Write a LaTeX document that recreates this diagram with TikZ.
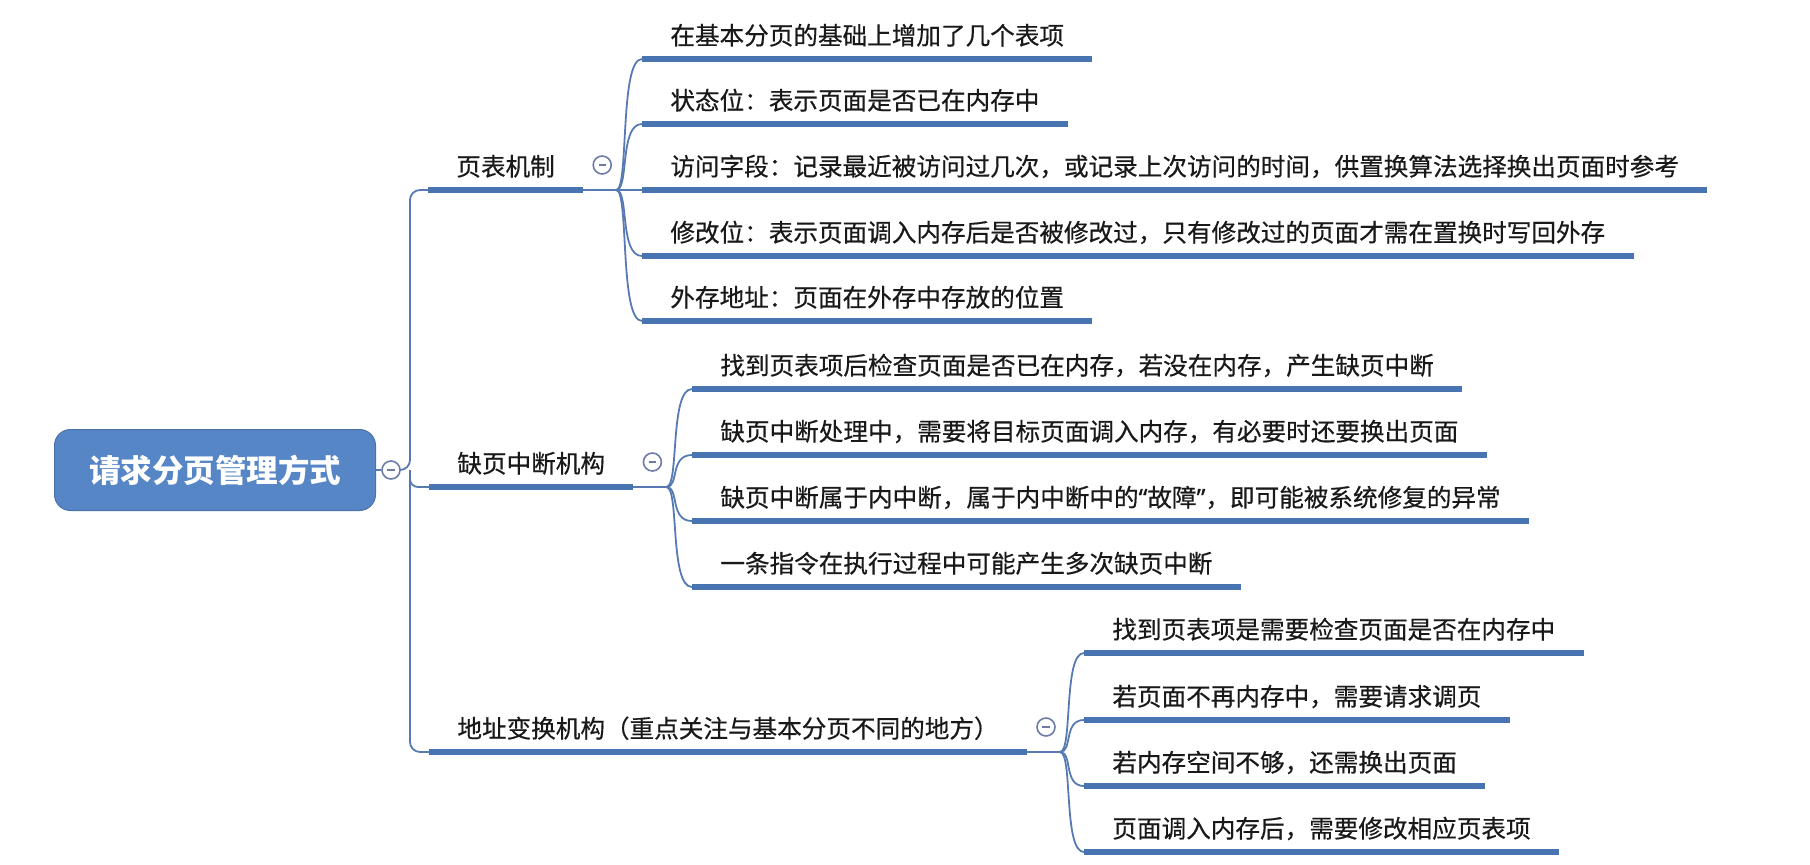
\documentclass[tikz,border=0pt]{standalone}
\usepackage{fontspec}
\setmainfont{Noto Sans CJK SC}
\newfontfamily\itemfont{Noto Sans CJK SC}[FakeBold=0.5]
\newfontfamily\quotefont{Noto Sans}[FakeBold=0.5]
\usetikzlibrary{calc}
\definecolor{ublue}{RGB}{72,116,178}
\definecolor{lblue}{RGB}{88,122,178}
\definecolor{rootblue}{RGB}{86,134,198}
\definecolor{cgray}{RGB}{110,124,165}
\begin{document}
\begin{tikzpicture}[x=0.5pt,y=-0.5pt,
  item/.style={anchor=south west, inner xsep=14pt, inner ysep=0pt, text height=10pt, text depth=7pt, font=\itemfont\fontsize{12.3}{14}\selectfont, text=black!90},
  ubar/.style={draw=ublue, line width=3pt},
  conn/.style={draw=lblue, line width=0.9pt},
  tog/.style={circle, draw=cgray, line width=0.8pt, fill=white, minimum size=9pt, inner sep=0pt,
    path picture={\draw[cgray, line width=0.7pt] ([xshift=-1.8pt]path picture bounding box.center) -- ([xshift=1.8pt]path picture bounding box.center);}},
  rootbox/.style={fill=rootblue, draw=rootblue!85!black, line width=0.5pt, rounded corners=8pt, minimum width=160.5pt, minimum height=40.5pt, text=white, font=\fontsize{15.75}{18}\selectfont\bfseries}]
\useasboundingbox (0,0) rectangle (1810,864);

% root
\node[rootbox] (root) at (215,470) {请求分页管理方式};
\node[tog] (rt) at (391,470) {};
\draw[conn] (root.east) -- (rt.west);

% level 1
\node[item] (p1) at (428,190) {页表机制};
\node[item] (p2) at (429,487) {缺页中断机构};
\node[item] (p3) at (429,752) {地址变换机构（重点关注与基本分页不同的地方）};

\coordinate (trk) at (410,470);
\draw[conn, rounded corners=5pt] (rt.east) -- (trk) |- (p1.south west);
\draw[conn, rounded corners=5pt] (trk) |- (p3.south west);
\draw[conn, rounded corners=4pt] (trk) |- (p2.south west);

% level 2: 页表机制
\node[item] (a1) at (642,59) {在基本分页的基础上增加了几个表项};
\node[item] (a2) at (642,124) {状态位：表示页面是否已在内存中};
\node[item] (a3) at (642,190) {访问字段：记录最近被访问过几次，或记录上次访问的时间，供置换算法选择换出页面时参考};
\node[item] (a4) at (642,256) {修改位：表示页面调入内存后是否被修改过，只有修改过的页面才需在置换时写回外存};
\node[item] (a5) at (642,321) {外存地址：页面在外存中存放的位置};

% level 2: 缺页中断机构
\node[item] (b1) at (692,389) {找到页表项后检查页面是否已在内存，若没在内存，产生缺页中断};
\node[item] (b2) at (692,455) {缺页中断处理中，需要将目标页面调入内存，有必要时还要换出页面};
\node[item] (b3) at (692,521) {缺页中断属于内中断，属于内中断中的{\quotefont “}故障{\quotefont ”}，即可能被系统修复的异常};
\node[item] (b4) at (692,587) {一条指令在执行过程中可能产生多次缺页中断};

% level 2: 地址变换机构
\node[item] (c1) at (1084,653) {找到页表项是需要检查页面是否在内存中};
\node[item] (c2) at (1084,720) {若页面不再内存中，需要请求调页};
\node[item] (c3) at (1084,786) {若内存空间不够，还需换出页面};
\node[item] (c4) at (1084,852) {页面调入内存后，需要修改相应页表项};

% toggles and branch points
\foreach \p/\k in {p1/1,p2/2,p3/3}{
  \node[tog] (t\k) at ($(\p.south east)+(19,-25)$) {};
  \coordinate (br\k) at ($(\p.south east)+(33,0)$);
  \draw[conn] (\p.south east) -- (br\k);
}
\foreach \c in {a1,a2,a3,a4,a5}{
  \draw[conn] (br1) .. controls ($(br1)+(13,0)$) and ($(br1 |- \c.south west)+(3,0)$) .. (\c.south west);
}
\foreach \c in {b1,b2,b3,b4}{
  \draw[conn] (br2) .. controls ($(br2)+(13,0)$) and ($(br2 |- \c.south west)+(3,0)$) .. (\c.south west);
}
\foreach \c in {c1,c2,c3,c4}{
  \draw[conn] (br3) .. controls ($(br3)+(13,0)$) and ($(br3 |- \c.south west)+(3,0)$) .. (\c.south west);
}

% underlines
\foreach \n in {p1,p2,p3,a1,a2,a3,a4,a5,b1,b2,b3,b4,c1,c2,c3,c4}{
  \draw[ubar] (\n.south west) -- (\n.south east);
}
\end{tikzpicture}
\end{document}
